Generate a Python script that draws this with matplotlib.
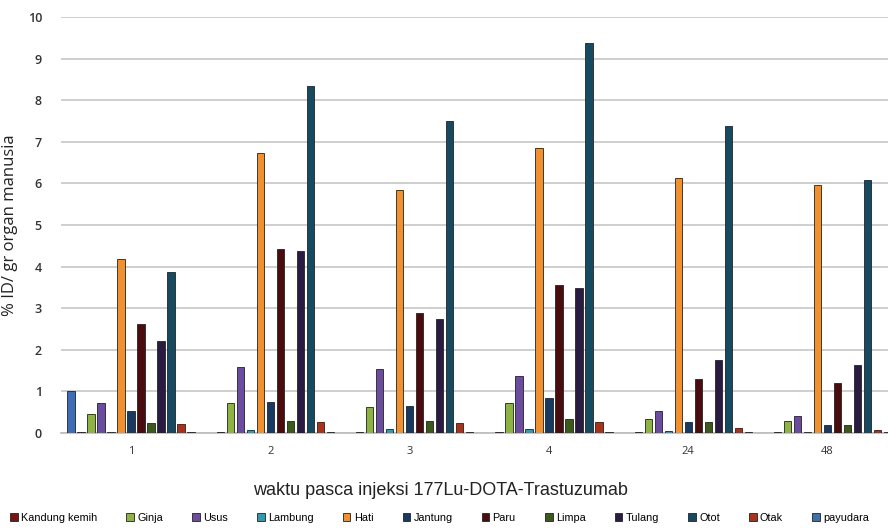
import matplotlib.pyplot as plt
import numpy as np

# Data
waktu = ['1', '2', '3', '4', '24', '48']
organ = ['', 'Kandung kemih', 'Ginja', 'Usus', 'Lambung', 'Hati', 'Jantung',
         'Paru', 'Limpa', 'Tulang', 'Otot', 'Otak', 'payudara']

darah = [1.0, 0.0, 0.0, 0.0, 0.0, 0.0]
kandung_kemih = [0.02, 0.02, 0.02, 0.02, 0.02, 0.02]
ginja = [0.45, 0.72, 0.62, 0.72, 0.33, 0.28]
usus = [0.72, 1.58, 1.55, 1.37, 0.52, 0.40]
lambung = [0.02, 0.08, 0.10, 0.09, 0.05, 0.02]
hati = [4.18, 6.72, 5.83, 6.85, 6.13, 5.97]
jantung = [0.52, 0.75, 0.65, 0.83, 0.27, 0.20]
paru = [2.63, 4.42, 2.88, 3.55, 1.30, 1.20]
limpa = [0.25, 0.30, 0.28, 0.33, 0.27, 0.20]
tulang = [2.22, 4.38, 2.75, 3.48, 1.75, 1.63]
otot = [3.87, 8.33, 7.50, 9.38, 7.37, 6.07]
otak = [0.22, 0.27, 0.24, 0.27, 0.11, 0.08]
payudara = [0.03, 0.02, 0.02, 0.02, 0.02, 0.02]

nilai = [darah, kandung_kemih, ginja, usus, lambung, hati, jantung,
         paru, limpa, tulang, otot, otak, payudara]

warna = ['#3D6DB5', '#7A1414', '#8DB443', '#6B4C9E', '#2F9AB3', '#F0902F',
         '#183A62', '#4A0C0E', '#3B5A1A', '#2A1B42', '#164A60', '#A8321A',
         '#3E70AA']

# ukuran dalam piksel
grup = 139.3
kiri = 131 - grup / 2

fig = plt.figure(figsize=(8.88, 5.30), dpi=100)
ax = fig.add_axes([kiri / 888, 1 - 433 / 530, 1 - kiri / 888, (433 - 17) / 530])

x = np.arange(len(waktu))
slot = 10 / grup
lebar = 7.4 / grup
for i, (v, c) in enumerate(zip(nilai, warna)):
    pos = x + (i - 6) * slot
    lab = organ[i] if organ[i] else '_nolegend_'
    ax.bar(pos, v, width=lebar, color=c, edgecolor='#222222',
           linewidth=0.6, label=lab, zorder=3)

ax.set_ylim(0, 10)
ax.set_xlim(-0.5, (888 - kiri) / grup - 0.5)
ax.set_yticks(range(0, 11))
ax.yaxis.grid(True, color='#cfcfcf', linewidth=1.4, zorder=0)
for s in ['top', 'right', 'left']:
    ax.spines[s].set_visible(False)
ax.spines['bottom'].set_color('#bbbbbb')
ax.spines['bottom'].set_linewidth(1.2)
ax.tick_params(axis='both', length=0, labelsize=9, colors='#333333')
ax.tick_params(axis='y', pad=14)
ax.tick_params(axis='x', pad=9)
ax.set_xticks(x)
ax.set_xticklabels(waktu, family='Open Sans', fontsize=8)
for t in ax.get_yticklabels():
    t.set_family('Open Sans')
    t.set_fontweight('semibold')

ax.set_ylabel('% ID/ gr organ manusia', fontsize=12, family='Open Sans',
              color='#222222')
ax.yaxis.set_label_coords((18 - kiri) / (888 - kiri), 0.5)
ax.set_xlabel('waktu pasca injeksi 177Lu-DOTA-Trastuzumab', fontsize=13,
              family='Liberation Sans', color='#222222')
ax.xaxis.set_label_coords((440 - kiri) / (888 - kiri), -0.118)

leg = fig.legend(loc='center', bbox_to_anchor=(0.495, 1 - 518 / 530), ncol=12,
                 frameon=False, handlelength=0.7,
                 handleheight=0.7, handletextpad=0.3, columnspacing=2.7,
                 prop={'family': 'Liberation Sans', 'size': 7.8})

plt.savefig('out.png', dpi=100)
